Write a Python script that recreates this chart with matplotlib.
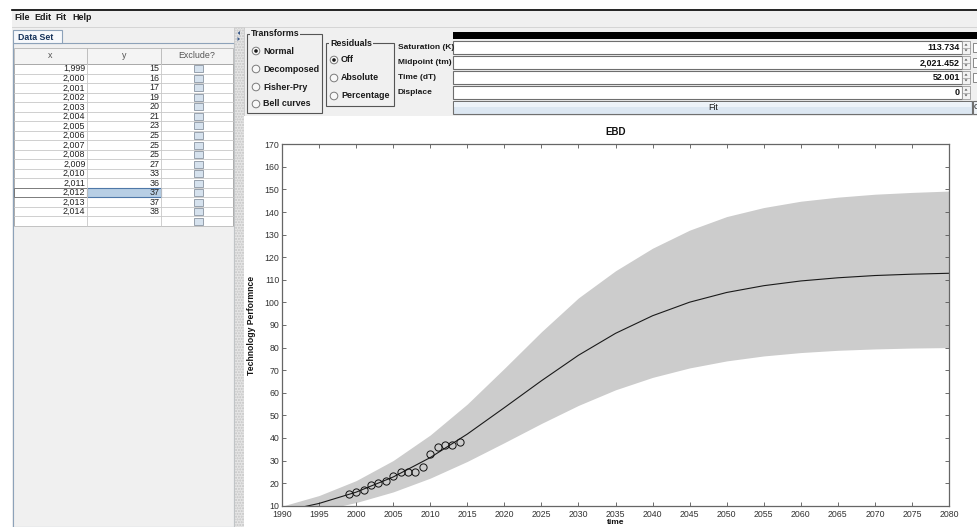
import matplotlib
matplotlib.use("Agg")
import matplotlib.pyplot as plt
from matplotlib.patches import Rectangle, Circle, Polygon

plt.rcParams['font.family'] = ['Liberation Sans', 'DejaVu Sans']

# ---------------- data ----------------
obs_years = [1999, 2000, 2001, 2002, 2003, 2004, 2005, 2006, 2007, 2008,
             2009, 2010, 2011, 2012, 2013, 2014]
obs_values = [15, 16, 17, 19, 20, 21, 23, 25, 25, 25, 27, 33, 36, 37, 37, 38]

fit_years = [1990, 1995, 2000, 2005, 2010, 2015, 2020, 2025, 2030, 2035,
             2040, 2045, 2050, 2055, 2060, 2065, 2070, 2075, 2080]
fit_values = [7.4, 11.0, 16.0, 22.7, 31.3, 41.7, 53.4, 65.3, 76.6, 86.3,
              94.1, 100.1, 104.4, 107.4, 109.5, 110.9, 111.9, 112.5, 112.9]
band_upper = [9.8, 14.5, 21.1, 30.0, 41.3, 55.0, 70.8, 87.0, 102.0, 114.0,
              124.0, 132.0, 138.0, 142.0, 144.8, 146.6, 147.9, 148.7, 149.3]
band_lower = [5.3, 7.8, 11.4, 16.1, 22.2, 29.6, 37.9, 46.4, 54.4, 61.3,
              66.8, 71.0, 74.1, 76.3, 77.8, 78.8, 79.4, 79.8, 80.0]

x_ticks = list(range(1990, 2081, 5))
y_ticks = list(range(10, 171, 10))

chart_title = "EBD"
x_label = "time"
y_label = "Technology Performnce"

menu_items = ["File", "Edit", "Fit", "Help"]
transforms = ["Normal", "Decomposed", "Fisher-Pry", "Bell curves"]
residuals = ["Off", "Absolute", "Percentage"]
param_labels = ["Saturation (K)", "Midpoint (tm)", "Time (dT)", "Displace"]
param_values = ["113.734", "2,021.452", "52.001", "0"]
table_headers = ["x", "y", "Exclude?"]
selected_row = 13  # 2,012

# ---------------- figure ----------------
W, H = 978, 527
fig = plt.figure(figsize=(W / 100, H / 100), dpi=100)
fig.patch.set_facecolor("white")

bg = fig.add_axes([0, 0, 1, 1])
bg.set_xlim(0, W)
bg.set_ylim(H, 0)
bg.axis("off")

GUI = "#f0f0f0"


def rect(x, y, w, h, fc="none", ec="none", lw=0.8, z=1, **kw):
    bg.add_patch(Rectangle((x, y), w, h, facecolor=fc, edgecolor=ec,
                           linewidth=lw, zorder=z, **kw))


def txt(x, y, s, size=6.2, bold=False, ha="left", color="#1a1a1a", z=5, **kw):
    bg.text(x, y, s, fontsize=size, fontweight="bold" if bold else "normal",
            ha=ha, va="center", color=color, zorder=z, **kw)


# application window background
rect(12, 9, W - 12, H - 9, fc=GUI)
bg.plot([12, W], [9.5, 9.5], color="black", lw=1.2, zorder=3)

# menu bar
menu_x = [14, 34, 55, 72]
for mx, item in zip(menu_x, menu_items):
    txt(mx, 18, item, size=6.4, bold=True)
bg.plot([12, W], [27, 27], color="#d0d0d0", lw=0.6, zorder=3)

# tab "Data Set"
rect(13, 30, 49, 13, fc="#f7f9fc", ec="#8da2b9", lw=0.8, z=3)
txt(18.5, 37, "Data Set", size=6.3, bold=True, color="#15325a")
rect(13, 43, 221, H - 43, fc=GUI, ec="#8da2b9", lw=0.8, z=2)

# table
col_edges = [14, 87, 161, 233]
header_top, header_bot = 48, 64
row_h = 9.53
n_rows = len(obs_years) + 1
rect(14, header_top, 219, header_bot - header_top, fc="#f4f4f4", ec="#b5b5b5", lw=0.6, z=3)
for i, h in enumerate(table_headers):
    cx = (col_edges[i] + col_edges[i + 1]) / 2
    txt(cx, (header_top + header_bot) / 2, h, size=6.4, ha="center", color="#555555")
for i in range(1, 3):
    bg.plot([col_edges[i]] * 2, [header_top, header_bot], color="#b5b5b5", lw=0.6, zorder=4)

table_top = header_bot
rect(14, table_top, 219, n_rows * row_h, fc="white", ec="#a0a0a0", lw=0.6, z=3)
for r in range(n_rows):
    y0 = table_top + r * row_h
    bg.plot([14, 233], [y0 + row_h, y0 + row_h], color="#c8c8c8", lw=0.6, zorder=4)
    yc = y0 + row_h / 2
    if r < len(obs_years):
        if r == selected_row:
            rect(col_edges[1], y0, col_edges[2] - col_edges[1], row_h,
                 fc="#b8cfe5", ec="#4f78a8", lw=0.8, z=4)
            rect(col_edges[0], y0, col_edges[1] - col_edges[0], row_h,
                 fc="none", ec="#707070", lw=0.6, z=4)
        txt(col_edges[1] - 1.5, yc, f"{obs_years[r]:,}", size=6.4, ha="right", color="#222222")
        txt(col_edges[2] - 1.5, yc, f"{obs_values[r]}", size=6.4, ha="right", color="#222222")
    rect(193.5, yc - 3.5, 9, 7, fc="#d6e2ee", ec="#8a95a2", lw=0.6, z=5)
for i in range(1, 3):
    bg.plot([col_edges[i]] * 2, [table_top, table_top + n_rows * row_h],
            color="#c8c8c8", lw=0.6, zorder=4)

# splitter
rect(234, 27, 10, H - 27, fc="#e6e6e6", ec="#c4c4c4", lw=0.5, z=2, hatch="......")
bg.add_patch(Polygon([[240, 31], [240, 35], [237.5, 33]], closed=True, fc="#3a5a8a", ec="none", zorder=6))
bg.add_patch(Polygon([[237.5, 37], [237.5, 41], [240, 39]], closed=True, fc="#3a5a8a", ec="none", zorder=6))

# chart panel
rect(244, 116, W - 244, H - 116, fc="white", z=2)


def group_box(x0, y0, x1, y1, label):
    rect(x0, y0, x1 - x0, y1 - y0, fc="none", ec="#555555", lw=0.8, z=3)
    bg.text(x0 + 4, y0, label, fontsize=6.4, fontweight="bold", ha="left", va="center",
            color="#1a1a1a", zorder=6,
            bbox=dict(facecolor=GUI, edgecolor="none", pad=0.6))


def radio(cx, cy, label, selected):
    bg.add_patch(Circle((cx, cy), 3.8, facecolor="#f8f8f8", edgecolor="#7b7b7b", lw=0.7, zorder=6))
    if selected:
        bg.add_patch(Circle((cx, cy), 1.8, facecolor="#1a1a1a", edgecolor="none", zorder=7))
    txt(cx + 7, cy, label, size=6.4, bold=True)


# Transforms group
group_box(247, 34, 322, 113, "Transforms")
for lab, cy in zip(transforms, [51, 69, 87, 104]):
    radio(256, cy, lab, lab == transforms[0])

# Residuals group
group_box(326, 43, 394, 106, "Residuals")
for lab, cy in zip(residuals, [60, 78, 96]):
    radio(334, cy, lab, lab == residuals[0])

# parameter fields
rect(453, 32, W - 453, 7, fc="black", z=3)
field_tops = [41, 56, 71, 86]
for i, (lab, val, ty) in enumerate(zip(param_labels, param_values, field_tops)):
    txt(397.5, ty + 6.5, lab, size=6.0, bold=True)
    rect(453, ty, 509, 13, fc="white", ec="#6e6e6e", lw=0.8, z=3)
    txt(960, ty + 6.8, val, size=6.5, bold=True, ha="right", color="#111111")
    # spinner
    rect(962, ty, 8, 13, fc="#f2f2f2", ec="#9a9a9a", lw=0.6, z=3)
    bg.plot([962, 970], [ty + 6.5, ty + 6.5], color="#9a9a9a", lw=0.5, zorder=4)
    bg.add_patch(Polygon([[964.5, ty + 4.6], [967.5, ty + 4.6], [966, ty + 2.6]], closed=True,
                         fc="#555555", ec="none", zorder=5))
    bg.add_patch(Polygon([[964.5, ty + 8.4], [967.5, ty + 8.4], [966, ty + 10.4]], closed=True,
                         fc="#555555", ec="none", zorder=5))
    if i < 3:
        rect(973, ty + 2, 6, 9, fc="white", ec="#777777", lw=0.6, z=3)

# Fit button
rect(453, 101, 519, 12.5, fc="#dce7f2", ec="#707070", lw=0.8, z=3)
rect(454, 101.5, 517, 5, fc="#edf3f9", ec="none", z=3)
txt(713, 107.3, "Fit", size=6.4, ha="center", color="#1a1a1a")
rect(973, 101, 8, 12.5, fc="#eef3f8", ec="#707070", lw=0.8, z=3)
txt(973.5, 107.3, "C", size=6.0, color="#1a1a1a")

# ---------------- chart ----------------
L, R, T, B = 282, 949, 144.3, 505.7
ax = fig.add_axes([L / W, 1 - B / H, (R - L) / W, (B - T) / H])
ax.set_zorder(10)
ax.set_facecolor("white")
ax.fill_between(fit_years, band_lower, band_upper, color="#cccccc", lw=0, zorder=1)
ax.plot(fit_years, fit_values, color="#1a1a1a", lw=0.8, zorder=2)
ax.plot(obs_years, obs_values, linestyle="none", marker="o", ms=5.2,
        mfc="none", mec="#111111", mew=0.7, zorder=3)
ax.set_xlim(1990, 2080)
ax.set_ylim(10, 170)
ax.set_xticks(x_ticks)
ax.set_yticks(y_ticks)
ax.tick_params(direction="in", length=3, width=0.6, color="#555555",
               labelsize=6.3, labelcolor="#333333", top=True, right=True, pad=2)
ax.tick_params(axis="x", pad=3)
for s in ax.spines.values():
    s.set_color("#666666")
    s.set_linewidth(0.9)
ax.set_title(chart_title, fontsize=7, fontweight="bold", pad=7, color="#111111")
ax.set_xlabel(x_label, fontsize=6.0, fontweight="bold", labelpad=0.3, color="#111111")
ax.set_ylabel(y_label, fontsize=6.2, fontweight="bold", labelpad=6, color="#111111")

fig.savefig("out.png", dpi=100)
